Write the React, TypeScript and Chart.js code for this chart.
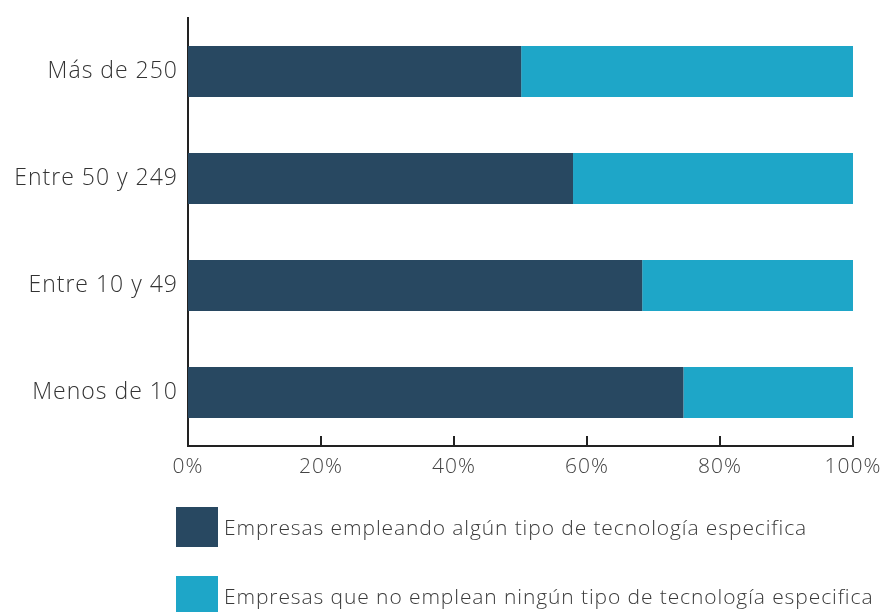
import React, { useEffect, useRef } from "react";
import { Chart, registerables } from "chart.js";

Chart.register(...registerables);

const categories = ["Más de 250", "Entre 50 y 249", "Entre 10 y 49", "Menos de 10"];
const usingTech = [50.1, 57.9, 68.3, 74.5];
const notUsingTech = [49.9, 42.1, 31.7, 25.5];
const xTicks = [0, 20, 40, 60, 80, 100];
const seriesLabels = [
  "Empresas empleando algún tipo de tecnología especifica",
  "Empresas que no emplean ningún tipo de tecnología especifica",
];
const seriesColors = ["#284861", "#1ea6c8"];

const FONT = "'Open Sans', Lato, sans-serif";

const spacingPlugin = {
  id: "spacing",
  beforeDraw(chart: any) {
    chart.ctx.letterSpacing = "1px";
  },
  afterDraw(chart: any) {
    chart.ctx.letterSpacing = "0px";
  },
};

const innerTicksPlugin = {
  id: "innerTicks",
  afterDraw(chart: any) {
    const { ctx, chartArea, scales } = chart;
    const x = scales.x;
    ctx.save();
    ctx.strokeStyle = "#222";
    ctx.lineWidth = 2;
    xTicks.forEach((v) => {
      const px = Math.round(x.getPixelForValue(v));
      ctx.beginPath();
      ctx.moveTo(px, chartArea.bottom);
      ctx.lineTo(px, chartArea.bottom - 10);
      ctx.stroke();
    });
    ctx.restore();
  },
};

const customLegendPlugin = {
  id: "customLegend",
  afterDraw(chart: any) {
    const { ctx } = chart;
    ctx.save();
    const boxX = 176;
    const tops = [507, 576];
    seriesLabels.forEach((label, i) => {
      ctx.fillStyle = seriesColors[i];
      ctx.fillRect(boxX, tops[i], 42, 40);
      ctx.fillStyle = "#3a3a3a";
      ctx.font = `300 21px ${FONT}`;
      ctx.letterSpacing = "0.9px";
      ctx.textBaseline = "middle";
      ctx.textAlign = "left";
      ctx.fillText(label, 224, tops[i] + 22);
    });
    ctx.restore();
  },
};

export default function App() {
  const canvasRef = useRef<HTMLCanvasElement | null>(null);

  useEffect(() => {
    if (!canvasRef.current) return;
    const chart = new Chart(canvasRef.current, {
      type: "bar",
      data: {
        labels: categories,
        datasets: [
          {
            label: seriesLabels[0],
            data: usingTech,
            backgroundColor: seriesColors[0],
            categoryPercentage: 1,
            barPercentage: 0.477,
          },
          {
            label: seriesLabels[1],
            data: notUsingTech,
            backgroundColor: seriesColors[1],
            categoryPercentage: 1,
            barPercentage: 0.477,
          },
        ],
      },
      options: {
        indexAxis: "y",
        animation: false,
        responsive: false,
        maintainAspectRatio: false,
        layout: { padding: { top: 18, right: 30, bottom: 126, left: 0 } },
        plugins: {
          legend: { display: false },
          tooltip: { enabled: false },
        },
        scales: {
          x: {
            stacked: true,
            min: 0,
            max: 100,
            afterFit: (s: any) => {
              s.height = 40;
              s.paddingRight = 0;
              s.paddingLeft = 0;
            },
            afterBuildTicks: (s: any) => {
              s.ticks = xTicks.map((v) => ({ value: v }));
            },
            grid: { display: false, drawTicks: false },
            border: { display: true, color: "#222", width: 2 },
            ticks: {
              padding: 8,
              color: "#444",
              font: { family: FONT, size: 21, weight: 300 },
              callback: (v: any) => `${v}%`,
              maxRotation: 0,
            },
          },
          y: {
            stacked: true,
            afterFit: (s: any) => {
              s.width = 188;
              s.paddingTop = 0;
              s.paddingBottom = 0;
            },
            grid: { display: false, drawTicks: false },
            border: { display: true, color: "#222", width: 2 },
            ticks: {
              padding: 10,
              color: "#333",
              font: { family: FONT, size: 23, weight: 300 },
            },
          },
        },
      },
      plugins: [spacingPlugin, innerTicksPlugin, customLegendPlugin],
    });
    return () => chart.destroy();
  }, []);

  return (
    <div style={{ position: "fixed", left: 0, top: 0, width: 883, height: 612, background: "#fff" }}>
      <canvas ref={canvasRef} width={883} height={612} style={{ width: 883, height: 612 }} />
    </div>
  );
}
